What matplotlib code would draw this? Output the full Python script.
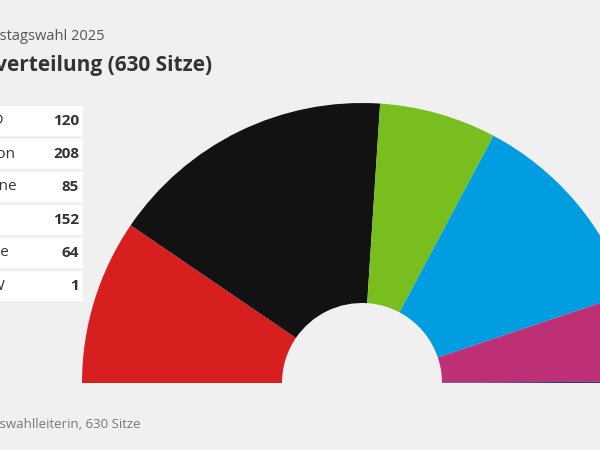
import matplotlib.pyplot as plt
from matplotlib.patches import Wedge, Rectangle

parties = ["SPD", "Union", "Grüne", "AfD", "Linke", "SSW"]
seats = [120, 208, 85, 152, 64, 1]
colors = ["#d81f1f", "#121212", "#78be1e", "#009de0", "#be3075", "#1e3c8c"]
label_end = [4, 16, 17, -2, 9, 5]  # right edge of each cropped label, px

plt.rcParams['font.family'] = ['Open Sans', 'DejaVu Sans']
bg = "#f0f0f0"
fig = plt.figure(figsize=(6, 4.5), dpi=100, facecolor=bg)
ax = fig.add_axes([0, 0, 1, 1])
ax.set_xlim(0, 600)
ax.set_ylim(450, 0)
ax.axis("off")

# half donut (y axis points down, so angles are negated)
cx, cy, r, w = 362, 383, 280, 200
total = sum(seats)
start = 180.0
for s, c in zip(seats, colors):
    end = start - s * 180.0 / total
    ax.add_patch(Wedge((cx, cy), r, -start, -end, width=w, facecolor=c, edgecolor="none"))
    start = end

# table
for i, (p, s, e) in enumerate(zip(parties, seats, label_end)):
    yc = 121 + i * 33
    ax.add_patch(Rectangle((-5, yc - 15), 88, 30, facecolor="white", edgecolor="none"))
    ax.text(e, yc, p, ha="right", va="center", fontsize=11, color="#333333")
    ax.text(79, yc, str(s), ha="right", va="center", fontsize=11, fontweight="bold", color="#333333")

ax.text(105, 36, "Bundestagswahl 2025", ha="right", va="center", fontsize=10.5, color="#555555")
ax.text(212, 66, "Sitzverteilung (630 Sitze)", ha="right", va="center", fontsize=15, fontweight="bold", color="#333333")
ax.text(141, 425, "Quelle: Bundeswahlleiterin, 630 Sitze", ha="right", va="center", fontsize=9.5, color="#777777")

fig.savefig("out.png", dpi=100, facecolor=bg)
